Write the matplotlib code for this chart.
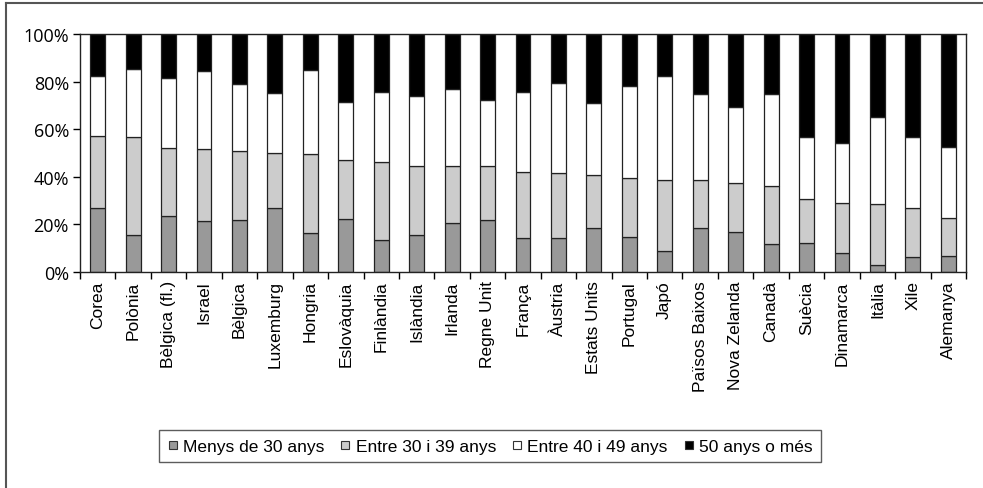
import numpy as np
import matplotlib
matplotlib.use("Agg")
import matplotlib.pyplot as plt
from matplotlib.ticker import FuncFormatter, FixedLocator
from matplotlib.lines import Line2D

countries = ['Corea', 'Polònia', 'Bèlgica (fl.)', 'Israel', 'Bèlgica', 'Luxemburg',
             'Hongria', 'Eslovàquia', 'Finlàndia', 'Islàndia', 'Irlanda', 'Regne Unit',
             'França', 'Àustria', 'Estats Units', 'Portugal', 'Japó', 'Països Baixos',
             'Nova Zelanda', 'Canadà', 'Suècia', 'Dinamarca', 'Itàlia', 'Xile', 'Alemanya']

# cumulative boundaries (%)
cum_30 = [27.0, 15.4, 23.4, 21.3, 22.0, 27.0, 16.4, 22.2, 13.4, 15.4, 20.7, 22.0,
          14.4, 14.1, 18.3, 14.5, 8.7, 18.3, 16.6, 11.6, 12.2, 7.8, 2.8, 6.4, 6.6]
cum_40 = [57.3, 56.9, 51.9, 51.7, 50.8, 50.1, 49.7, 47.1, 46.4, 44.5, 44.5, 44.5,
          42.2, 41.8, 40.6, 39.6, 38.7, 38.7, 37.3, 36.1, 30.8, 29.0, 28.7, 27.0, 22.8]
cum_50 = [82.5, 85.3, 81.7, 84.6, 79.2, 75.2, 84.9, 71.6, 75.8, 74.1, 76.9, 72.3,
          75.8, 79.4, 70.8, 78.3, 82.5, 74.8, 69.2, 74.7, 56.6, 54.4, 65.3, 56.9, 52.7]

menys30 = np.array(cum_30)
entre30 = np.array(cum_40) - np.array(cum_30)
entre40 = np.array(cum_50) - np.array(cum_40)
mes50 = 100 - np.array(cum_50)

labels = ['Menys de 30 anys', 'Entre 30 i 39 anys', 'Entre 40 i 49 anys', '50 anys o més']
colors = ['#999999', '#cccccc', '#ffffff', '#000000']

fig = plt.figure(figsize=(9.83, 4.89), dpi=100)
ax = fig.add_axes([80 / 983, 1 - 273 / 489, (966 - 80) / 983, (273 - 35) / 489])

x = np.arange(len(countries))
bottom = np.zeros(len(countries))
for vals, c, lab in zip([menys30, entre30, entre40, mes50], colors, labels):
    ax.bar(x, vals, bottom=bottom, width=0.42, color=c, edgecolor='#222222',
           linewidth=0.9, label=lab)
    bottom += vals

ax.set_xlim(-0.5, len(countries) - 0.5)
ax.set_ylim(0, 100)
ax.yaxis.set_major_locator(FixedLocator([0, 20, 40, 60, 80, 100]))
ax.yaxis.set_major_formatter(FuncFormatter(lambda v, p: f'{v:.0f}%'))
ax.set_xticks(x)
ax.set_xticklabels(countries, rotation=90, fontsize=12.5, family=['Liberation Sans', 'DejaVu Sans'])
ax.tick_params(axis='x', length=0, pad=6)
ax.set_xticks(np.arange(-0.5, len(countries)), minor=True)
ax.tick_params(axis='x', which='minor', length=5, width=1, direction='out')
ax.tick_params(axis='y', length=5, width=1, direction='out', labelsize=13, pad=3)
for t in ax.get_yticklabels():
    t.set_family(['Open Sans', 'DejaVu Sans'])
for s in ['left', 'bottom', 'right', 'top']:
    ax.spines[s].set_linewidth(1)
    ax.spines[s].set_color('#222222')

handles = [Line2D([], [], marker='s', linestyle='', markersize=6, markerfacecolor=c,
                  markeredgecolor='#333333', markeredgewidth=0.8) for c in colors]
leg = fig.legend(handles, labels, loc='center', bbox_to_anchor=(490 / 983, 1 - 447 / 489),
                 ncol=4, frameon=True, fancybox=False, edgecolor='#333333',
                 handlelength=0.6, handletextpad=0.3, columnspacing=0.9,
                 prop={'family': ['Liberation Sans', 'DejaVu Sans'], 'size': 12.5},
                 borderpad=0.5)
leg.get_frame().set_linewidth(1)

# outer chart frame (left and top edges visible)
fig.add_artist(Line2D([5.5 / 983, 5.5 / 983], [0, 1 - 4 / 489], color='#555555', lw=1.5))
fig.add_artist(Line2D([5.5 / 983, 1], [1 - 4 / 489, 1 - 4 / 489], color='#555555', lw=1.5))

fig.savefig('out.png', dpi=100)
